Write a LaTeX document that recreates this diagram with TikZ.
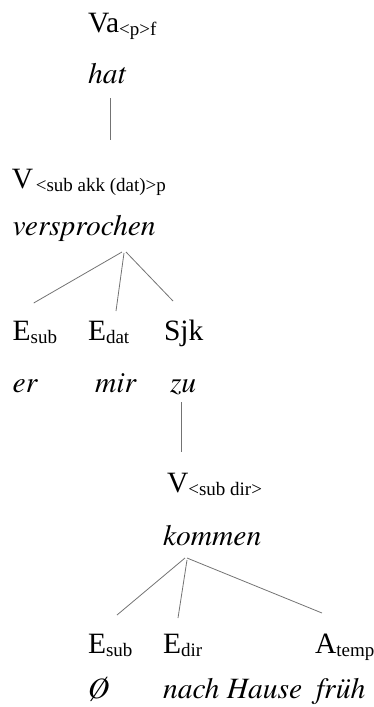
\documentclass[tikz,border=0pt]{standalone}
\usepackage{fontspec}
\setmainfont{Liberation Serif}
\newfontfamily\itfont{texgyretermes-italic.otf}
\usetikzlibrary{calc}
\newcommand{\mysub}[1]{\raisebox{-3.5pt}{\fontsize{19}{20}\selectfont #1}}
\tikzset{
  lbl/.style={anchor=base west, inner sep=0pt, outer sep=0pt, font=\fontsize{29.5}{31}\selectfont, text=black},
  wrd/.style={lbl, font=\itfont\fontsize{29.5}{31}\selectfont},
  edge/.style={draw=black!55, line width=0.8pt}
}
\begin{document}
\begin{tikzpicture}[x=1pt,y=-1pt]
\useasboundingbox (0,0) rectangle (374,707);
% level 1
\node[lbl] (va) at (88,32) {Va\mysub{<p>f}};
\node[wrd] (hat) at (88,83) {hat};
% level 2
\node[lbl] (vsp) at (12,188) {V\kern2.5pt\mysub{<sub akk (dat)>p}};
\node[wrd] (versprochen) at (12.7,235) {versprochen};
% level 3
\node[lbl] (esubA) at (12.7,340) {E\mysub{sub}};
\node[lbl] (edat) at (88,340) {E\mysub{dat}};
\node[lbl] (sjk) at (164,340) {Sjk};
\node[wrd] (er) at (12.7,392) {er};
\node[wrd] (mir) at (95,392) {mir};
\node[wrd] (zu) at (170,392) {zu};
% level 4
\node[lbl] (vdir) at (167,492) {V\mysub{<sub dir>}};
\node[wrd] (kommen) at (163,545) {kommen};
% level 5
\node[lbl] (esubB) at (88,653) {E\mysub{sub}};
\node[lbl] (edir) at (163,653) {E\mysub{dir}};
\node[lbl] (atemp) at (315,653) {A\mysub{temp}};
\node[wrd] (null) at (88,698) {Ø};
\node[wrd] (nach) at (163,698) {nach Hause};
\node[wrd] (frueh) at (316,698) {früh};
% connectors
\draw[edge] ($(hat.base west)+(22,15)$) -- ($(vsp.base west)+(98,-48)$);
\draw[edge] ($(versprochen.base west)+(109.3,17)$) -- ($(esubA.base west)+(21,-37)$);
\draw[edge] ($(versprochen.base west)+(111.3,18)$) -- ($(edat.base west)+(28,-29)$);
\draw[edge] ($(versprochen.base west)+(113.3,17)$) -- ($(sjk.base west)+(9,-39)$);
\draw[edge] ($(zu.base west)+(11,10)$) -- ($(vdir.base west)+(14,-40)$);
\draw[edge] ($(kommen.base west)+(22,13)$) -- ($(esubB.base west)+(29,-38)$);
\draw[edge] ($(kommen.base west)+(24,15)$) -- ($(edir.base west)+(15,-35)$);
\draw[edge] ($(kommen.base west)+(24,13)$) -- ($(atemp.base west)+(7,-40)$);
\end{tikzpicture}
\end{document}
